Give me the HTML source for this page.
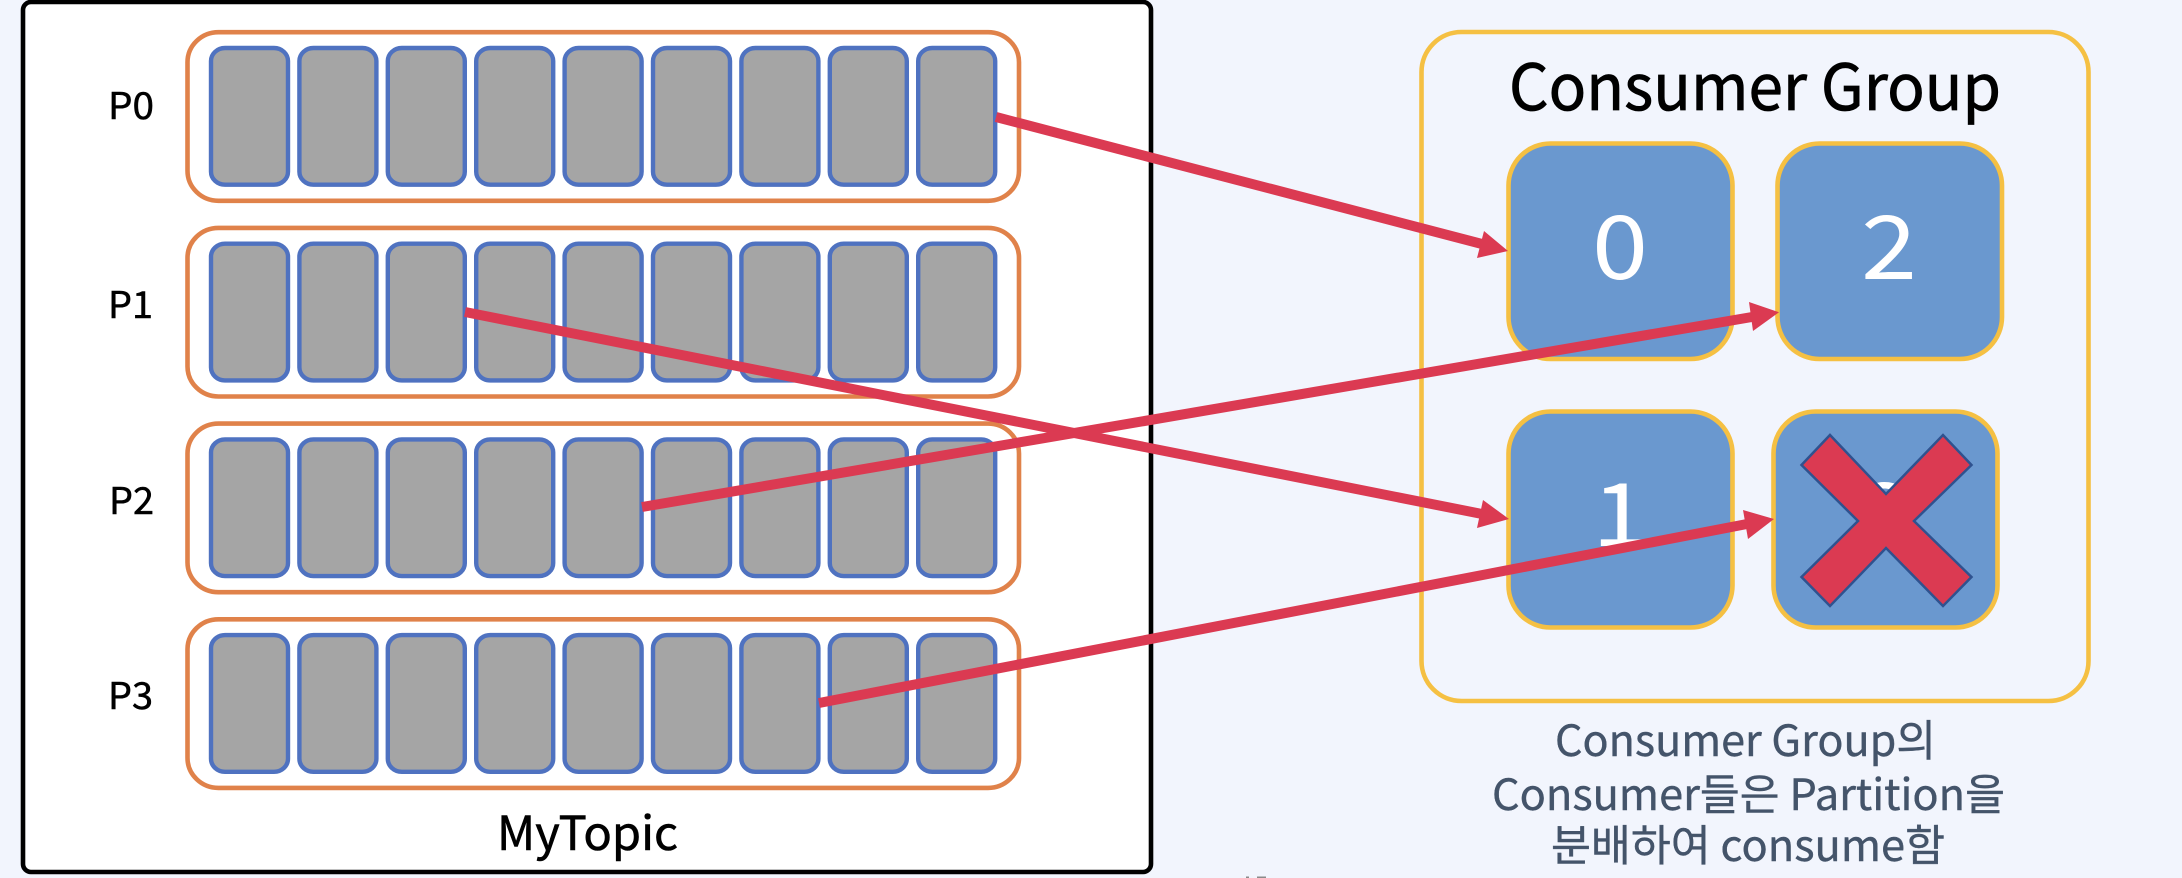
<!DOCTYPE html>
<html><head><meta charset="utf-8"><style>
html,body{margin:0;padding:0;background:#f2f5fd;width:2182px;height:878px;overflow:hidden}
svg{display:block}
text{font-family:"Noto Sans CJK KR","Liberation Sans",sans-serif}
</style></head><body>
<svg width="2182" height="878" viewBox="0 0 2182 878" xmlns="http://www.w3.org/2000/svg">
<defs>
<g id="cell"><rect x="211" y="48" width="77" height="136.7" rx="14" ry="13" fill="#a5a5a5" stroke="#4f72c0" stroke-width="4.4"/></g>
<g id="row">
<rect x="187.5" y="32.2" width="831.5" height="168.6" rx="31" ry="30" fill="#fff" stroke="#e0824a" stroke-width="4.6"/>
<use href="#cell"/><use href="#cell" x="88.4"/><use href="#cell" x="176.8"/><use href="#cell" x="265.2"/><use href="#cell" x="353.6"/><use href="#cell" x="442"/><use href="#cell" x="530.4"/><use href="#cell" x="618.8"/><use href="#cell" x="707.2"/>
</g>
</defs>
<rect x="23" y="2" width="1128" height="870" rx="8" fill="#fff" stroke="#000" stroke-width="4.6"/>
<use href="#row"/><use href="#row" y="195.7"/><use href="#row" y="391.4"/><use href="#row" y="587.1"/>
<g font-size="37" fill="#000" stroke="#000" stroke-width="0.5">
<text x="108" y="119" textLength="46" lengthAdjust="spacingAndGlyphs">P0</text>
<text x="108" y="318" textLength="45" lengthAdjust="spacingAndGlyphs">P1</text>
<text x="109" y="514" textLength="45" lengthAdjust="spacingAndGlyphs">P2</text>
<text x="108" y="709" textLength="45" lengthAdjust="spacingAndGlyphs">P3</text>
</g>
<text x="497" y="850" font-size="47" fill="#000" stroke="#000" stroke-width="0.6" textLength="181" lengthAdjust="spacingAndGlyphs">MyTopic</text>

<rect x="1421.5" y="32" width="667" height="669" rx="40" fill="none" stroke="#f5c043" stroke-width="4.6"/>
<text x="1509" y="110" font-size="64" fill="#000" stroke="#000" stroke-width="0.8" textLength="492" lengthAdjust="spacingAndGlyphs">Consumer Group</text>
<g fill="#6a98cf" stroke="#f5c043" stroke-width="4.6">
<rect x="1508.5" y="143.5" width="224" height="215.5" rx="42"/>
<rect x="1777.5" y="143.5" width="224.5" height="215.5" rx="42"/>
<rect x="1508.5" y="411.5" width="224" height="216" rx="42"/>
<rect x="1773.5" y="411.5" width="224" height="216" rx="42"/>
</g>
<g font-size="88" fill="#fff">
<text x="1592" y="279" textLength="56" lengthAdjust="spacingAndGlyphs">0</text>
<text x="1861" y="279" textLength="56" lengthAdjust="spacingAndGlyphs">2</text>
<text x="1592" y="546" textLength="56" lengthAdjust="spacingAndGlyphs">1</text>
<text x="1858" y="546" textLength="56" lengthAdjust="spacingAndGlyphs">3</text>
</g>
<polygon points="1830,435 1886,494 1943,435 1971.5,465 1914,521 1971.5,577 1943,606 1886,548 1830,606 1801.5,577 1858,521 1801.5,465" fill="#db3a52" stroke="#2f528f" stroke-width="2.5"/>

<g font-size="43" fill="#44546a" stroke="#44546a" stroke-width="0.4">
<text x="1555" y="756" textLength="381" lengthAdjust="spacingAndGlyphs">Consumer Group의</text>
<text x="1492" y="810" textLength="513" lengthAdjust="spacingAndGlyphs">Consumer들은 Partition을</text>
<text x="1551" y="861" textLength="394" lengthAdjust="spacingAndGlyphs">분배하여 consume함</text>
</g>

<g stroke="#db3a52" stroke-width="10" fill="none">
<line x1="996" y1="117" x2="1482" y2="244"/>
<line x1="465" y1="312" x2="1482" y2="514"/>
<line x1="642" y1="507" x2="1752" y2="317"/>
<line x1="819" y1="703" x2="1747" y2="524"/>
</g>
<g fill="#db3a52">
<polygon points="1508,251 1484,231 1477,258"/>
<polygon points="1509,519 1483,500 1477,528"/>
<polygon points="1779,312.3 1749,302 1753,331"/>
<polygon points="1774,519 1743,510 1748,539"/>
</g>
<rect x="1246" y="876.5" width="3" height="1.5" fill="#8a8a8a"/>
<rect x="1257" y="876.5" width="9" height="1.5" fill="#8a8a8a"/>
</svg>
</body></html>
